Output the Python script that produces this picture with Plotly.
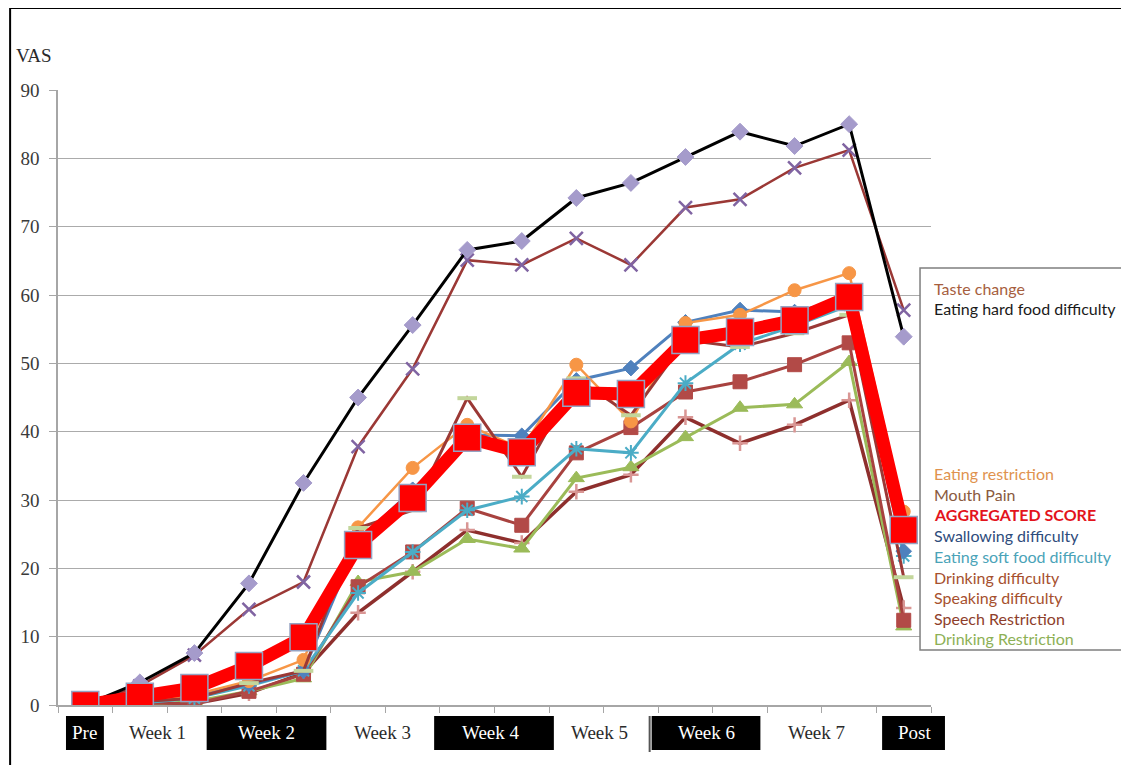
import plotly.graph_objects as go

# ---------------- data ----------------
categories = ["Pre", "W1a", "W1b", "W2a", "W2b", "W3a", "W3b", "W4a", "W4b",
              "W5a", "W5b", "W6a", "W6b", "W7a", "W7b", "Post"]
week_labels = ["Pre", "Week 1", "Week 2", "Week 3", "Week 4", "Week 5", "Week 6", "Week 7", "Post"]
y_ticks = [0, 10, 20, 30, 40, 50, 60, 70, 80, 90]

eating_hard_food = [0, 3.3, 7.6, 17.8, 32.5, 45.0, 55.6, 66.6, 67.9, 74.2, 76.4, 80.2, 83.9, 81.8, 85.0, 53.9]
taste_change = [0, 2.8, 7.3, 14.0, 18.0, 37.8, 49.2, 65.1, 64.4, 68.3, 64.4, 72.8, 74.0, 78.6, 81.2, 57.8]
eating_restriction = [0, 0.5, 1.5, 3.5, 6.6, 26.0, 34.7, 41.0, 37.5, 49.8, 41.5, 55.9, 57.1, 60.7, 63.2, 28.3]
swallowing = [0, 0.5, 1.5, 3.0, 5.0, 24.0, 31.5, 39.5, 39.4, 47.5, 49.3, 56.0, 57.8, 57.5, 59.5, 22.5]
soft_food = [0, 0.3, 1.0, 2.8, 5.0, 16.4, 22.4, 28.5, 30.5, 37.5, 36.9, 47.1, 52.8, 55.5, 58.5, 21.8]
drinking_restriction = [0, 0, 0.5, 2.0, 3.9, 18.0, 19.5, 24.3, 22.9, 33.2, 34.8, 39.2, 43.5, 44.0, 50.2, 11.5]
mouth_pain = [0, 0.3, 0.2, 2.0, 4.5, 17.3, 22.4, 28.8, 26.3, 36.9, 40.6, 45.8, 47.3, 49.8, 53.0, 12.4]
speech_restriction = [0, 0, 0.2, 1.7, 4.7, 13.5, 19.5, 25.6, 23.7, 31.2, 33.7, 42.1, 38.3, 41.0, 44.6, 14.2]
drinking_difficulty = [0, 0.5, 1.0, 3.2, 5.0, 25.9, 28.5, 44.9, 33.4, 47.8, 42.4, 53.4, 52.4, 54.4, 57.1, 18.7]
aggregated = [0, 1.2, 2.5, 5.7, 9.9, 23.4, 30.3, 39.1, 37.0, 45.7, 45.5, 53.4, 54.6, 56.3, 59.7, 25.6]

legend_top = ["Taste change", "Eating hard food difficulty"]
legend_bottom = ["Eating restriction", "Mouth Pain", "AGGREGATED SCORE", "Swallowing difficulty",
                 "Eating soft food difficulty", "Drinking difficulty", "Speaking difficulty",
                 "Speech Restriction", "Drinking Restriction"]

# ---------------- geometry helpers (screen pixel -> paper) ----------------
OFF = 8                      # page body margin
W, H = 1121, 757
L, T = 48, 82
PW, PH = 875, 615
R, B = W - L - PW, H - T - PH


def px(x):
    return (x - OFF - L) / PW


def py(y):
    return (T + PH - (y - OFF)) / PH


fig = go.Figure()


def add(name, vals, lc, lw, sym, ms, mc, mlc=None, mlw=1):
    fig.add_trace(go.Scatter(
        x=categories, y=vals, name=name, mode="lines+markers",
        line=dict(color=lc, width=lw),
        marker=dict(symbol=sym, size=ms, color=mc,
                    line=dict(color=mlc if mlc else mc, width=mlw)),
        showlegend=False))


add("Speech Restriction", speech_restriction, "#8E2F2D", 3.5, "cross-thin-open", 11, "#D99694", "#D99694", 2.5)
add("Drinking Restriction", drinking_restriction, "#9BBB59", 3, "triangle-up", 14, "#9BBB59", "#9BBB59", 1)
add("Mouth Pain", mouth_pain, "#A8423F", 3, "square", 14, "#B24A47", "#B24A47", 1)
add("Eating soft food difficulty", soft_food, "#4BACC6", 3, "asterisk-open", 13, "#4BACC6", "#4BACC6", 2)
add("Swallowing difficulty", swallowing, "#4F81BD", 3, "diamond", 12, "#4F81BD", "#4F81BD", 1)
add("Eating restriction", eating_restriction, "#F79646", 2.5, "circle", 13, "#F79646", "#F79646", 1)
add("Drinking difficulty", drinking_difficulty, "#9B3835", 3, "line-ew-open", 14, "#C3D69B", "#C3D69B", 4)
add("Taste change", taste_change, "#9B3835", 2.5, "x-thin-open", 13, "#8064A2", "#8064A2", 2.5)
add("Eating hard food difficulty", eating_hard_food, "#000000", 3, "diamond", 13, "#A59BCB", "#A59BCB", 1)
add("AGGREGATED SCORE", aggregated, "#FF0000", 13, "square", 27, "#FF0000", "#95A3C3", 1.5)

fig.update_xaxes(
    type="category", range=[-0.5, len(categories) - 0.5],
    showticklabels=False, ticks="outside", tickson="boundaries", ticklen=6,
    tickcolor="#A6A6A6", showline=True, linecolor="#A6A6A6", linewidth=1.5,
    showgrid=False, zeroline=False, fixedrange=True)
fig.update_yaxes(
    range=[0, 90], tickvals=y_ticks, ticks="outside", ticklen=7, tickcolor="#A6A6A6",
    showline=True, linecolor="#A6A6A6", linewidth=1.5,
    showgrid=True, gridcolor="#ABABAB", gridwidth=1.3, zeroline=False,
    tickfont=dict(family="Liberation Serif", size=19, color="#3A3A3A"),
    ticklabelstandoff=6)

shapes = []
annotations = []

# outer frame
shapes.append(dict(type="line", xref="paper", yref="paper", x0=px(8), x1=px(8), y0=py(8), y1=py(770),
                   line=dict(color="black", width=2)))
shapes.append(dict(type="line", xref="paper", yref="paper", x0=px(8), x1=px(1135), y0=py(8), y1=py(8),
                   line=dict(color="black", width=2)))

# legend box
shapes.append(dict(type="rect", xref="paper", yref="paper", x0=px(920), x1=px(1140), y0=py(650), y1=py(268),
                   line=dict(color="#7F7F7F", width=1.5), fillcolor="white", layer="above"))

# x category labels
label_centers = [83, 156, 265, 381, 490, 599, 706, 816, 914]
boxes = {"Pre": (64, 102), "Week 2": (205, 325), "Week 4": (433, 553), "Week 6": (651, 760), "Post": (882, 945)}
for lab, cx in zip(week_labels, label_centers):
    boxed = lab in boxes
    if boxed:
        x0, x1 = boxes[lab]
        shapes.append(dict(type="rect", xref="paper", yref="paper", x0=px(x0), x1=px(x1),
                           y0=py(750), y1=py(716), line=dict(width=0), fillcolor="black"))
    annotations.append(dict(text=lab, xref="paper", yref="paper", x=px(cx), y=py(732),
                            xanchor="center", yanchor="middle", showarrow=False,
                            font=dict(family="Liberation Serif", size=19,
                                      color="white" if boxed else "#2A2A2A")))
shapes.append(dict(type="line", xref="paper", yref="paper", x0=px(649), x1=px(649), y0=py(752), y1=py(716),
                   line=dict(color="#555555", width=2)))

# VAS axis title
annotations.append(dict(text="VAS", xref="paper", yref="paper", x=px(12), y=py(55),
                        xanchor="left", yanchor="middle", showarrow=False,
                        font=dict(family="Liberation Serif", size=19, color="#2A2A2A")))

# legend text
top_colors = ["#A65E3E", "#1A1A1A"]
bottom_colors = ["#E0924E", "#8A5A3E", "#E3141C", "#2E4C7C", "#4AA3B8",
                 "#A6502E", "#A6502E", "#8E3E2B", "#8DB055"]
top_y = [288, 308]
bottom_y = [473, 494, 514, 535, 556, 577, 597, 618, 638]
for t, c, y in zip(legend_top + legend_bottom, top_colors + bottom_colors, top_y + bottom_y):
    bold = t == "AGGREGATED SCORE"
    annotations.append(dict(text=f"<b>{t}</b>" if bold else t, xref="paper", yref="paper",
                            x=px(932), y=py(y), xanchor="left", yanchor="middle", showarrow=False,
                            font=dict(family="Lato", size=16, color=c)))

fig.update_layout(
    width=W, height=H, margin=dict(l=L, r=R, t=T, b=B),
    paper_bgcolor="white", plot_bgcolor="white",
    shapes=shapes, annotations=annotations, showlegend=False)

fig.write_html("out.html")
